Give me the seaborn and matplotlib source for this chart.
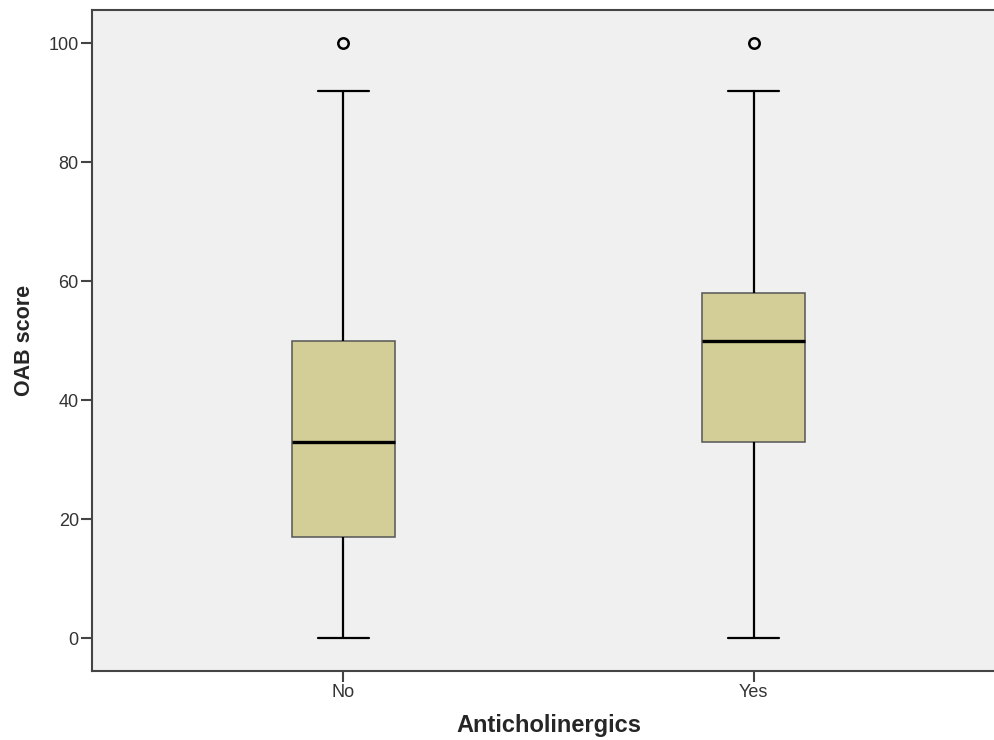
import pandas as pd
import seaborn as sns
import matplotlib.pyplot as plt

groups = ['No', 'Yes']
# scores chosen so quartiles / whiskers / outliers match the SPSS boxplot
no_scores = [0, 10, 17, 25, 33, 40, 50, 92, 100]
yes_scores = [0, 20, 33, 40, 50, 55, 58, 92, 100]
y_ticks = [0, 20, 40, 60, 80, 100]

df = pd.DataFrame({
    'Anticholinergics': ['No'] * len(no_scores) + ['Yes'] * len(yes_scores),
    'OAB score': no_scores + yes_scores,
})

sns.set_style('white')
plt.rcParams['font.family'] = ['Liberation Sans', 'DejaVu Sans']

fig = plt.figure(figsize=(9.94, 7.4), dpi=100)
ax = fig.add_axes([0.0926, 0.0936, 0.9185, 0.8929])
ax.set_facecolor('#F0F0F0')

sns.boxplot(data=df, x='Anticholinergics', y='OAB score', order=groups,
            width=0.25, color='#D3CE97', saturation=1, whis=1.5,
            linecolor='black', linewidth=1.6,
            boxprops=dict(edgecolor='#555555', linewidth=1.1),
            medianprops=dict(color='black', linewidth=2.4),
            whiskerprops=dict(color='black', linewidth=1.6),
            capprops=dict(color='black', linewidth=1.6),
            flierprops=dict(marker='o', markersize=7.5, markerfacecolor='none',
                            markeredgecolor='black', markeredgewidth=1.8),
            ax=ax)

ax.set_xlim(-0.612, 1.612)
ax.set_ylim(-5.45, 105.6)
ax.set_yticks(y_ticks)
ax.set_xticks([0, 1])
ax.set_xticklabels(groups)

for side in ['left', 'bottom', 'top']:
    ax.spines[side].set_color('#444444')
    ax.spines[side].set_linewidth(1.5)
ax.spines['right'].set_visible(False)

ax.tick_params(axis='both', direction='out', length=8, width=1.5, color='#444444',
               labelsize=13, labelcolor='#333333', pad=1.5,
               left=True, bottom=True)

ax.set_xlabel('Anticholinergics', fontsize=17, fontweight='bold')
ax.set_ylabel('OAB score', fontsize=15.5, fontweight='bold')
ax.xaxis.set_label_coords(0.5, -0.0655)
ax.yaxis.set_label_coords(-0.062, 0.5)

plt.savefig('out.png', dpi=100)
